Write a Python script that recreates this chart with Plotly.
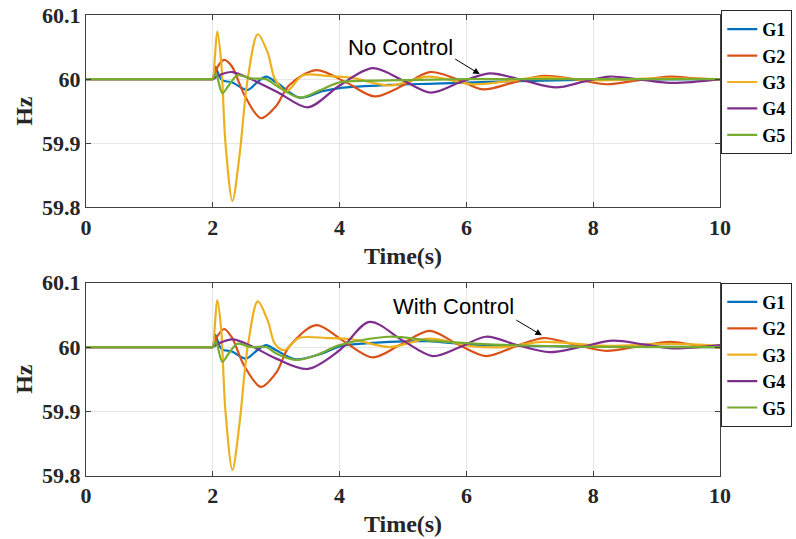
import plotly.graph_objects as go

# ---------------- data ----------------
names = ["G1", "G2", "G3", "G4", "G5"]
colors = ["#0072BD", "#D95319", "#EDB120", "#7E2F8E", "#77AC30"]

# Top panel: No Control
t_g1_top = [0, 1.0, 1.97, 2.0, 2.04, 2.1, 2.15, 2.3, 2.55, 2.7, 2.84, 3.0, 3.37, 3.73, 4.0, 4.79, 5.5, 6.5, 8.0, 10]
f_g1_top = [60, 60, 60, 60, 60.019, 60.005, 59.998, 59.995, 59.983, 59.995, 60.004, 59.995, 59.971, 59.981, 59.986, 59.991, 59.993, 59.996, 59.999, 60.0]

t_g2_top = [0, 1.0, 1.97, 2.0, 2.08, 2.18, 2.3, 2.5, 2.76, 3.0, 3.2, 3.63, 4.1, 4.55, 5.0, 5.42, 5.85, 6.26, 6.75, 7.21, 7.7, 8.21, 8.7, 9.21, 9.6, 10]
f_g2_top = [60, 60, 60, 60, 60.02, 60.030, 60.02, 59.975, 59.939, 59.958, 59.99, 60.014, 59.995, 59.973, 59.99, 60.011, 60.0, 59.984, 59.995, 60.005, 60.0, 59.992, 59.998, 60.004, 60.001, 59.999]

t_g3_top = [0, 1.0, 1.97, 2.0, 2.03, 2.07, 2.13, 2.2, 2.31, 2.42, 2.55, 2.71, 2.87, 2.98, 3.16, 3.42, 3.8, 4.2, 4.79, 5.4, 6.1, 6.6, 7.2, 8.0, 9.0, 10]
f_g3_top = [60, 60, 60, 60, 60.03, 60.074, 60.03, 59.90, 59.81, 59.88, 60.0, 60.070, 60.04, 60.0, 59.981, 60.006, 60.005, 60.002, 59.99, 60.004, 59.992, 59.996, 60.003, 59.998, 60.001, 60.0]

t_g4_top = [0, 1.0, 1.97, 2.0, 2.1, 2.31, 2.6, 3.05, 3.5, 4.0, 4.52, 5.0, 5.44, 5.9, 6.37, 6.9, 7.42, 7.85, 8.26, 8.75, 9.26, 10]
f_g4_top = [60, 60, 60, 60, 60.006, 60.011, 60.0, 59.978, 59.956, 59.99, 60.017, 59.998, 59.979, 59.995, 60.009, 59.998, 59.987, 59.996, 60.004, 59.999, 59.994, 60.0]

t_g5_top = [0, 1.0, 1.97, 2.0, 2.05, 2.15, 2.25, 2.39, 2.6, 2.84, 3.0, 3.37, 3.7, 4.0, 4.77, 6.0, 10]
f_g5_top = [60, 60, 60, 60, 60.008, 59.978, 59.99, 60.006, 60.001, 60.0, 59.99, 59.971, 59.983, 59.995, 59.998, 60.0, 60.0]

# Bottom panel: With Control
t_g1_bot = [0, 1.0, 1.97, 2.0, 2.04, 2.1, 2.15, 2.3, 2.52, 2.7, 2.84, 3.0, 3.31, 3.73, 4.0, 4.79, 5.4, 6.0, 7.5, 10]
f_g1_bot = [60, 60, 60, 60, 60.019, 60.003, 59.996, 59.993, 59.982, 59.995, 60.003, 59.995, 59.981, 59.990, 60.001, 60.008, 60.009, 60.004, 60.001, 60.0]

t_g2_bot = [0, 1.0, 1.97, 2.0, 2.08, 2.18, 2.3, 2.5, 2.76, 3.0, 3.2, 3.63, 4.05, 4.52, 4.95, 5.42, 5.85, 6.31, 6.75, 7.21, 7.7, 8.21, 8.7, 9.21, 9.6, 10]
f_g2_bot = [60, 60, 60, 60, 60.018, 60.028, 60.015, 59.97, 59.938, 59.96, 60.0, 60.034, 60.01, 59.984, 60.003, 60.025, 60.005, 59.986, 60.0, 60.014, 60.004, 59.994, 60.001, 60.008, 60.003, 59.999]

t_g3_bot = [0, 1.0, 1.97, 2.0, 2.03, 2.07, 2.13, 2.2, 2.31, 2.42, 2.55, 2.71, 2.87, 2.98, 3.13, 3.36, 3.8, 4.2, 4.79, 5.42, 6.1, 6.6, 7.2, 8.2, 9.2, 10]
f_g3_bot = [60, 60, 60, 60, 60.03, 60.073, 60.03, 59.90, 59.809, 59.88, 60.0, 60.071, 60.04, 60.005, 59.995, 60.014, 60.014, 60.012, 60.0, 60.013, 60.001, 60.0, 60.008, 60.002, 60.005, 60.002]

t_g4_bot = [0, 1.0, 1.97, 2.0, 2.1, 2.31, 2.6, 3.0, 3.5, 4.0, 4.47, 5.0, 5.47, 5.9, 6.31, 6.8, 7.31, 7.8, 8.31, 8.8, 9.26, 10]
f_g4_bot = [60, 60, 60, 60, 60.006, 60.012, 60.002, 59.982, 59.966, 59.995, 60.039, 60.01, 59.986, 60.0, 60.016, 60.003, 59.992, 60.0, 60.010, 60.004, 59.998, 60.003]

t_g5_bot = [0, 1.0, 1.97, 2.0, 2.05, 2.15, 2.25, 2.39, 2.6, 2.84, 3.0, 3.31, 3.65, 4.0, 4.79, 5.42, 6.2, 7.5, 10]
f_g5_bot = [60, 60, 60, 60, 60.008, 59.977, 59.99, 60.005, 60.0, 60.0, 59.99, 59.980, 59.988, 60.003, 60.016, 60.010, 60.005, 60.001, 60.0]

x_ticks = [0, 2, 4, 6, 8, 10]
y_ticks = [59.8, 59.9, 60.0, 60.1]
y_ticktext = ["59.8", "59.9", "60", "60.1"]

top_t = [t_g1_top, t_g2_top, t_g3_top, t_g4_top, t_g5_top]
top_f = [f_g1_top, f_g2_top, f_g3_top, f_g4_top, f_g5_top]
bot_t = [t_g1_bot, t_g2_bot, t_g3_bot, t_g4_bot, t_g5_bot]
bot_f = [f_g1_bot, f_g2_bot, f_g3_bot, f_g4_bot, f_g5_bot]

# ---------------- figure ----------------
fig = go.Figure()
for i in range(5):
    fig.add_trace(go.Scatter(x=top_t[i], y=top_f[i], name=names[i], mode="lines",
                             line=dict(color=colors[i], width=2.2, shape="spline", smoothing=0.9),
                             xaxis="x", yaxis="y", legend="legend"))
for i in range(5):
    fig.add_trace(go.Scatter(x=bot_t[i], y=bot_f[i], name=names[i], mode="lines",
                             line=dict(color=colors[i], width=2.2, shape="spline", smoothing=0.9),
                             xaxis="x2", yaxis="y2", legend="legend2"))

W, H = 796, 539
serif = dict(family="Liberation Serif", size=22, color="#262626", weight="bold")
title_font = dict(family="Liberation Serif", size=24, color="#262626", weight="bold")
axcol = "#404040"
gridcol = "#E6E6E6"

def xaxis(anchor):
    return dict(range=[0, 10], tickvals=x_ticks, ticks="inside", ticklen=5, tickcolor=axcol,
                showline=True, linecolor=axcol, linewidth=1, mirror="ticks",
                showgrid=True, gridcolor=gridcol, zeroline=False, anchor=anchor,
                tickfont=serif, title=dict(text="Time(s)", font=title_font, standoff=8),
                domain=[0, 1], automargin=False)

def yaxis(anchor, dom):
    return dict(range=[59.8, 60.1], tickvals=y_ticks, ticktext=y_ticktext, ticks="inside",
                ticklen=5, tickcolor=axcol, showline=True, linecolor=axcol, linewidth=1,
                mirror="ticks", showgrid=True, gridcolor=gridcol, zeroline=False, anchor=anchor,
                tickfont=serif, title=dict(text="Hz", font=title_font, standoff=2),
                domain=dom, automargin=False)

leg_common = dict(font=dict(family="Liberation Serif", size=18, color="black", weight="bold"),
                  bgcolor="white", bordercolor="#262626", borderwidth=1,
                  xanchor="left", yanchor="top", x=1.002, tracegroupgap=0)

fig.update_layout(
    width=W, height=H,
    margin=dict(l=86, r=76, t=0, b=0, autoexpand=False),
    paper_bgcolor="white", plot_bgcolor="white",
    xaxis=xaxis("y"),
    yaxis=yaxis("x", [1 - 207.3 / H, 1 - 15 / H]),
    xaxis2=xaxis("y2"),
    yaxis2=yaxis("x2", [1 - 475.7 / H, 1 - 282.7 / H]),
    legend=dict(y=1 - 10 / H, **leg_common),
    legend2=dict(y=1 - 282.7 / H, **leg_common),
    annotations=[
        dict(x=4.96, y=60.05, xref="x", yref="y", text="No Control", showarrow=False,
             font=dict(family="Liberation Sans", size=22, color="black")),
        dict(x=6.21, y=60.0078, xref="x", yref="y", text="", showarrow=True,
             ax=-26, ay=-16, arrowhead=2, arrowsize=1.3, arrowwidth=1, arrowcolor="black"),
        dict(x=5.80, y=60.0636, xref="x2", yref="y2", text="With Control", showarrow=False,
             font=dict(family="Liberation Sans", size=22, color="black")),
        dict(x=7.19, y=60.0183, xref="x2", yref="y2", text="", showarrow=True,
             ax=-27, ay=-16, arrowhead=2, arrowsize=1.3, arrowwidth=1, arrowcolor="black"),
    ],
)

fig.write_html("out.html", config={"displayModeBar": False},
               post_script="document.body.style.margin='0';")
